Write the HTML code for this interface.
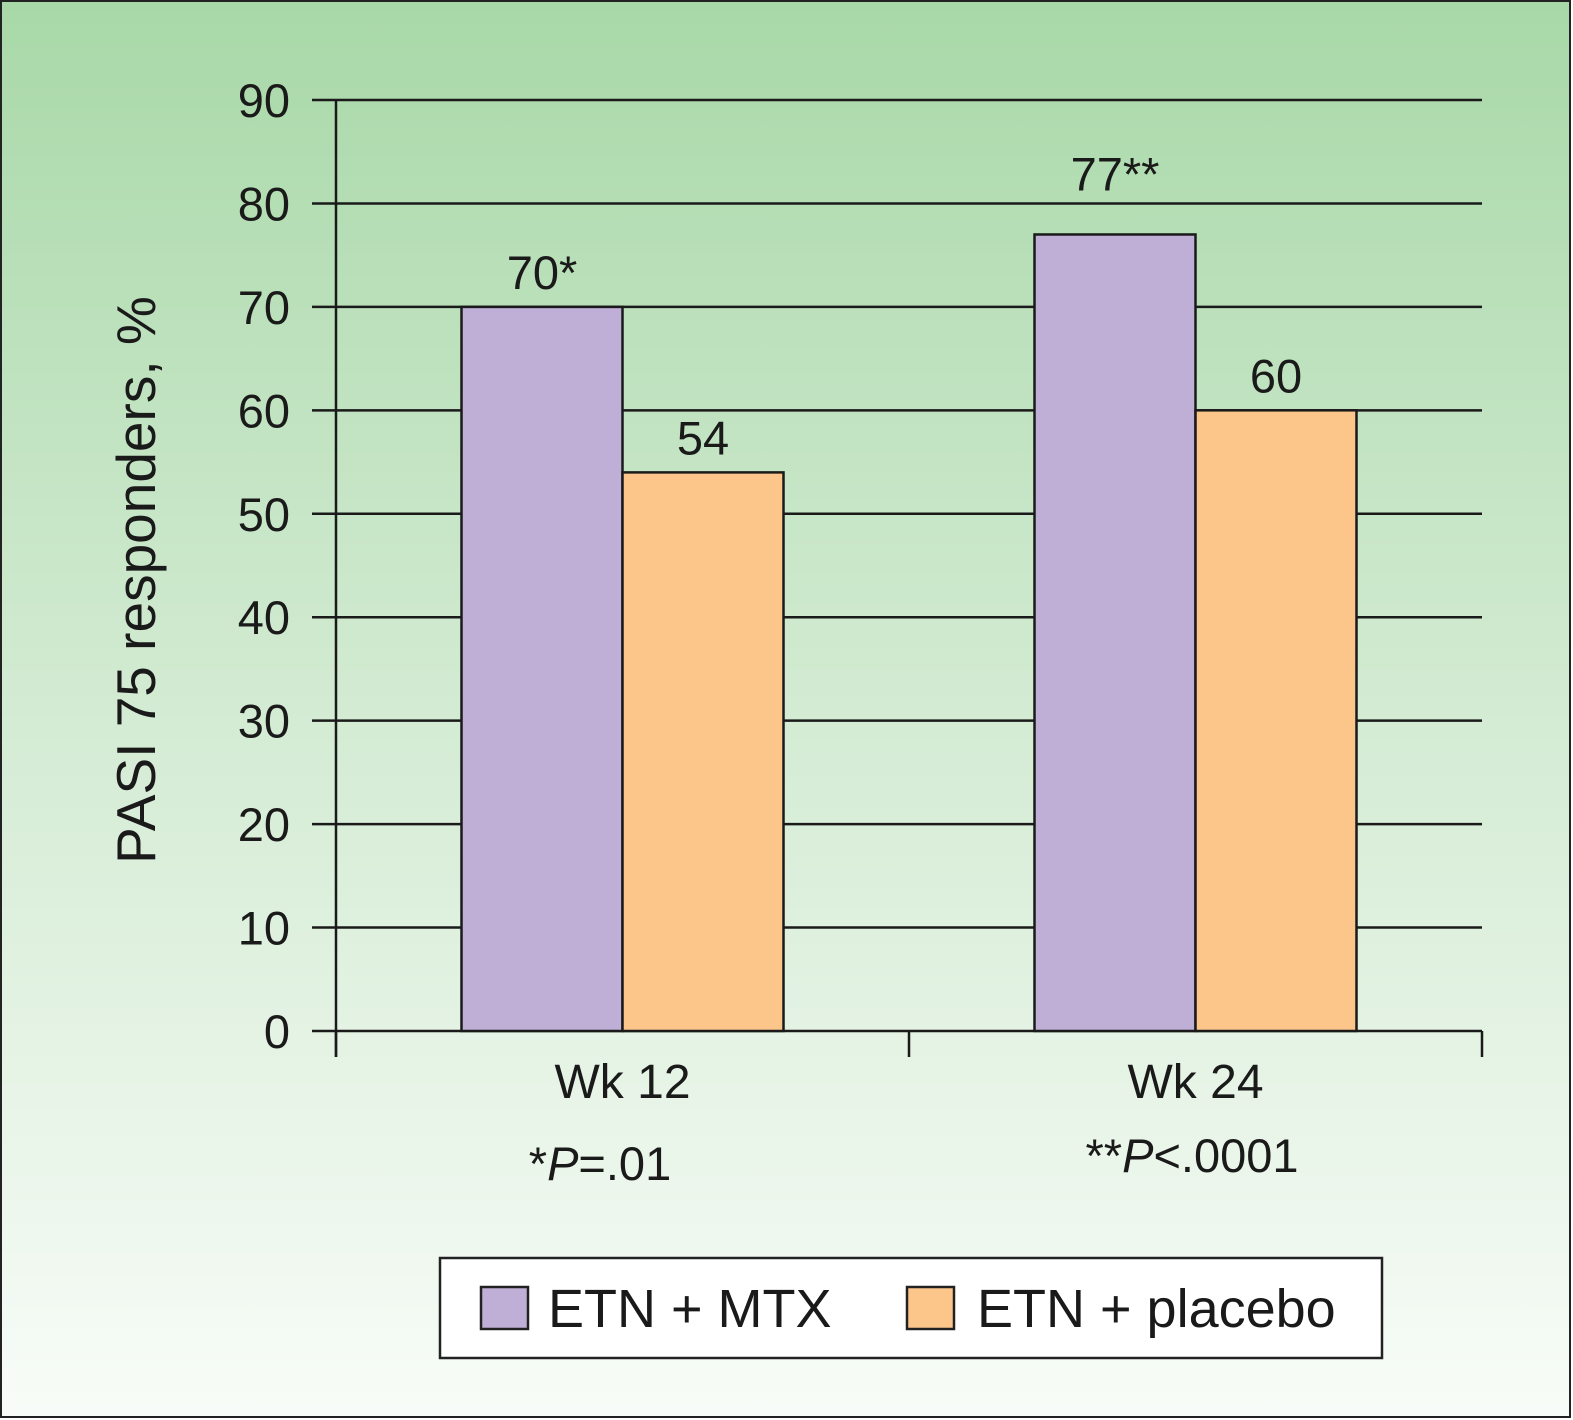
<!DOCTYPE html>
<html><head><meta charset="utf-8"><style>
html,body{margin:0;padding:0}
body{width:1573px;height:1420px;overflow:hidden}
svg{display:block;font-family:"Liberation Sans",Arial,sans-serif}
</style></head><body>
<svg id="chart" width="1573" height="1420" viewBox="0 0 1573 1420">
<defs><linearGradient id="bg" x1="0" y1="0" x2="0" y2="1">
<stop offset="0" stop-color="#a8d8a8"/><stop offset="0.5" stop-color="#d3ebd3"/><stop offset="1" stop-color="#f8fcf8"/></linearGradient></defs>
<rect x="1" y="1" width="1569" height="1416" fill="url(#bg)" stroke="#222" stroke-width="2"/>
<g id="grid"></g><g id="bars"></g><g id="labels"></g>
<text transform="translate(155,580) rotate(-90)" text-anchor="middle" font-size="55" fill="#1a1a1a">PASI 75 responders, %</text>
<text x="600" y="1180" text-anchor="middle" font-size="47" fill="#1a1a1a">*<tspan font-style="italic">P</tspan>=.01</text>
<text x="1192" y="1172" text-anchor="middle" font-size="47" fill="#1a1a1a">**<tspan font-style="italic">P</tspan>&lt;.0001</text>
<g>
<rect x="440" y="1258" width="942" height="100" fill="#fff" stroke="#222" stroke-width="2.5"/>
<rect x="481" y="1287" width="47" height="42" fill="#bfaed5" stroke="#222" stroke-width="2.5"/>
<text x="548" y="1327" font-size="54" fill="#1a1a1a">ETN + MTX</text>
<rect x="907" y="1287" width="47" height="42" fill="#fcc68a" stroke="#222" stroke-width="2.5"/>
<text x="977" y="1327" font-size="54" fill="#1a1a1a">ETN + placebo</text>
</g>
</svg>
<script>
const categories=["Wk 12","Wk 24"];
const mtxValues=[70,77];
const placeboValues=[54,60];
const mtxLabels=["70*","77**"];
const placeboLabels=["54","60"];
const yTicks=[0,10,20,30,40,50,60,70,80,90];
const NS="http://www.w3.org/2000/svg";
const x0=336,x1=1482,yb=1031,yt=100,ymax=90;
const y=v=>yb-(v/ymax)*(yb-yt);
const gw=(x1-x0)/categories.length;
const bw=161;
function mk(tag,attrs,parent){const e=document.createElementNS(NS,tag);for(const k in attrs)e.setAttribute(k,attrs[k]);document.getElementById(parent).appendChild(e);return e;}
yTicks.forEach(t=>{
 const l=mk('line',{x1:312,x2:x1,y1:y(t),y2:y(t),stroke:'#1a1a1a','stroke-width':2.5},'grid');
 
 
 const tx=mk('text',{x:290,y:y(t)+17,'text-anchor':'end','font-size':47,fill:'#1a1a1a'},'grid');tx.textContent=t;
 
 
});
const ax=mk('line',{x1:x0,x2:x0,y1:yt,y2:1057,stroke:'#1a1a1a','stroke-width':2.5},'grid');


for(let i=0;i<=categories.length;i++){
 const tk=mk('line',{x1:x0+i*gw,x2:x0+i*gw,y1:yb,y2:1057,stroke:'#1a1a1a','stroke-width':2.5},'grid');
 
 
}
categories.forEach((c,i)=>{
 const cx=x0+gw*(i+0.5);
 const b1=mk('rect',{x:cx-bw,y:y(mtxValues[i]),width:bw,height:yb-y(mtxValues[i]),fill:'#bfaed5',stroke:'#1a1a1a','stroke-width':2.5},'bars');
 
 
 const b2=mk('rect',{x:cx,y:y(placeboValues[i]),width:bw,height:yb-y(placeboValues[i]),fill:'#fcc68a',stroke:'#1a1a1a','stroke-width':2.5},'bars');
 
 
 const off=mtxLabels[i].indexOf('**')>=0?44:18;
 const t1=mk('text',{x:cx-bw/2,y:y(mtxValues[i])-off,'text-anchor':'middle','font-size':47,fill:'#1a1a1a'},'labels');t1.textContent=mtxLabels[i];
 
 
 const t2=mk('text',{x:cx+bw/2,y:y(placeboValues[i])-18,'text-anchor':'middle','font-size':47,fill:'#1a1a1a'},'labels');t2.textContent=placeboLabels[i];
 
 
 const cl=mk('text',{x:cx,y:1098,'text-anchor':'middle','font-size':48,fill:'#1a1a1a'},'labels');cl.textContent=c;
 
 
});
</script>
</body></html>
